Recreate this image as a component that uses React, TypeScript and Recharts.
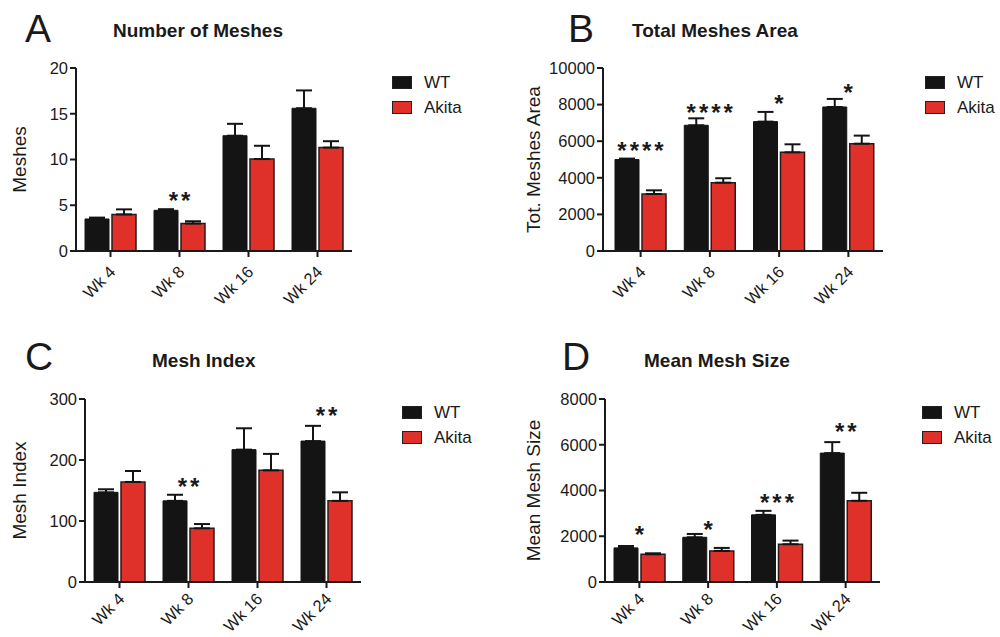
import React from 'react';
import { BarChart, Bar, XAxis, YAxis, ErrorBar, LabelList, Legend } from 'recharts';

const FONT = '"Liberation Sans", Arial, sans-serif';
const INK = '#1a1a1a';
const WT_COLOR = '#141414';
const AKITA_COLOR = '#e0302a';

const weeks = ['Wk 4', 'Wk 8', 'Wk 16', 'Wk 24'];
const seriesNames = ['WT', 'Akita'];

// A: number of meshes
const meshesWT = [3.5, 4.45, 12.6, 15.6];
const meshesWTSem = [0.15, 0.12, 1.3, 1.95];
const meshesAkita = [4.0, 3.0, 10.05, 11.3];
const meshesAkitaSem = [0.55, 0.25, 1.45, 0.7];
const meshesStars = ['', '**', '', ''];
const meshesStarLevel = [0, 6.0, 0, 0];
const meshesTicks = [0, 5, 10, 15, 20];

// B: total meshes area
const areaWT = [5000, 6870, 7070, 7870];
const areaWTSem = [50, 380, 530, 440];
const areaAkita = [3115, 3735, 5390, 5865];
const areaAkitaSem = [200, 240, 440, 440];
const areaStars = ['****', '****', '*', '*'];
const areaStarLevel = [5740, 7810, 8300, 8900];
const areaTicks = [0, 2000, 4000, 6000, 8000, 10000];

// C: mesh index
const indexWT = [147, 133, 217, 231];
const indexWTSem = [5, 10, 35, 25];
const indexAkita = [164, 88, 183, 133];
const indexAkitaSem = [18, 7, 27, 14];
const indexStars = ['', '**', '', '**'];
const indexStarLevel = [0, 164, 0, 280];
const indexTicks = [0, 100, 200, 300];

// D: mean mesh size
const sizeWT = [1490, 1955, 2935, 5635];
const sizeWTSem = [85, 145, 175, 480];
const sizeAkita = [1210, 1360, 1650, 3550];
const sizeAkitaSem = [45, 130, 160, 350];
const sizeStars = ['*', '*', '***', '**'];
const sizeStarLevel = [2270, 2490, 3670, 6770];
const sizeTicks = [0, 2000, 4000, 6000, 8000];

const makeRows = (
  wt: number[], wtSem: number[], ak: number[], akSem: number[],
  stars: string[], levels: number[]
) =>
  weeks.map((week, i) => ({
    week,
    wt: wt[i],
    wtErr: [0, wtSem[i]],
    akita: ak[i],
    akitaErr: [0, akSem[i]],
    star: stars[i],
    starLevel: levels[i],
  }));

const panels = [
  {
    letter: 'A', title: 'Number of Meshes', yLabel: 'Meshes',
    rows: makeRows(meshesWT, meshesWTSem, meshesAkita, meshesAkitaSem, meshesStars, meshesStarLevel),
    ticks: meshesTicks,
    box: { left: 0, top: 0, width: 500, height: 318 },
    margin: { top: 68, right: 148, bottom: 7, left: 0 },
    yWidth: 76, xHeight: 60, labelX: 19, padLeft: 0, tickDrop: 14,
    legend: { left: 392, top: 70 },
    letterPos: { x: 25, y: 42 }, titlePos: { x: 113, y: 37 },
  },
  {
    letter: 'B', title: 'Total Meshes Area', yLabel: 'Tot. Meshes Area',
    rows: makeRows(areaWT, areaWTSem, areaAkita, areaAkitaSem, areaStars, areaStarLevel),
    ticks: areaTicks,
    box: { left: 500, top: 0, width: 500, height: 318 },
    margin: { top: 68, right: 117, bottom: 7, left: 0 },
    yWidth: 103, xHeight: 60, labelX: 33, padLeft: 3, tickDrop: 14,
    legend: { left: 425, top: 70 },
    letterPos: { x: 568, y: 42 }, titlePos: { x: 632, y: 37 },
  },
  {
    letter: 'C', title: 'Mesh Index', yLabel: 'Mesh Index',
    rows: makeRows(indexWT, indexWTSem, indexAkita, indexAkitaSem, indexStars, indexStarLevel),
    ticks: indexTicks,
    box: { left: 0, top: 320, width: 500, height: 317 },
    margin: { top: 79, right: 139, bottom: 5, left: 0 },
    yWidth: 85, xHeight: 50, labelX: 19, padLeft: 0, tickDrop: 10,
    legend: { left: 402, top: 80 },
    letterPos: { x: 25, y: 370 }, titlePos: { x: 152, y: 367 },
  },
  {
    letter: 'D', title: 'Mean Mesh Size', yLabel: 'Mean Mesh Size',
    rows: makeRows(sizeWT, sizeWTSem, sizeAkita, sizeAkitaSem, sizeStars, sizeStarLevel),
    ticks: sizeTicks,
    box: { left: 500, top: 320, width: 500, height: 317 },
    margin: { top: 79, right: 120, bottom: 5, left: 0 },
    yWidth: 105, xHeight: 50, labelX: 33, padLeft: 0, tickDrop: 10,
    legend: { left: 422, top: 80 },
    letterPos: { x: 562, y: 370 }, titlePos: { x: 644, y: 367 },
  },
];

const WeekTick = ({ x, y, payload, drop }: any) => {
  const ax = x + 6;
  const ay = y + drop;
  return (
    <text
      x={ax}
      y={ay}
      transform={`rotate(-45, ${ax}, ${ay})`}
      textAnchor="end"
      fontSize={16.5}
      fontFamily={FONT}
      fill={INK}
    >
      {payload.value}
    </text>
  );
};

// stars sit centred over the pair, at a level
const renderStar = (rows: any[]) => (props: any) => {
  const { index, value } = props;
  if (!value) return null;
  const vb = props.viewBox || props;
  const x = props.x ?? vb.x;
  const y = props.y ?? vb.y;
  const width = props.width ?? vb.width;
  const height = props.height ?? vb.height;
  const row = rows[index];
  const perUnit = height / row.wt;
  const base = y + height;
  const cy = base - row.starLevel * perUnit;
  return (
    <text
      x={x + width + 1.5 + 1.5}
      y={cy + 13}
      textAnchor="middle"
      fontSize={24}
      fontWeight="bold"
      letterSpacing={3}
      fontFamily={FONT}
      fill={INK}
    >
      {value}
    </text>
  );
};

const renderLegend = (props: any) => {
  const items = [...(props.payload || [])].sort(
    (a: any, b: any) => seriesNames.indexOf(a.value) - seriesNames.indexOf(b.value)
  );
  return (
    <div style={{ fontFamily: FONT, fontSize: 17, color: INK }}>
      {items.map((item: any) => (
        <div key={item.value} style={{ display: 'flex', alignItems: 'center', height: 25 }}>
          <span
            style={{
              display: 'inline-block',
              width: 20,
              height: 13,
              background: item.color,
              border: '1.5px solid #222',
              boxSizing: 'border-box',
              marginRight: 12,
            }}
          />
          <span>{item.value}</span>
        </div>
      ))}
    </div>
  );
};

const Panel = ({ p }: { p: (typeof panels)[number] }) => {
  const max = p.ticks[p.ticks.length - 1];
  return (
    <div style={{ position: 'absolute', left: p.box.left, top: p.box.top }}>
      <BarChart
        width={p.box.width}
        height={p.box.height}
        data={p.rows}
        margin={p.margin}
        barGap={3}
      >
        <XAxis
          dataKey="week"
          interval={0}
          height={p.xHeight}
          padding={{ left: p.padLeft, right: 0 }}
          tick={<WeekTick drop={p.tickDrop} />}
          tickSize={6}
          axisLine={{ stroke: INK, strokeWidth: 2 }}
          tickLine={{ stroke: INK, strokeWidth: 2 }}
        />
        <YAxis
          domain={[0, max]}
          ticks={p.ticks}
          width={p.yWidth}
          tickSize={6}
          tickMargin={2}
          axisLine={{ stroke: INK, strokeWidth: 2 }}
          tickLine={{ stroke: INK, strokeWidth: 2 }}
          tick={{ fontSize: 16.5, fill: INK, fontFamily: FONT }}
          label={{
            value: p.yLabel,
            angle: -90,
            position: 'insideLeft',
            offset: p.labelX,
            style: { textAnchor: 'middle', fontSize: 19, fill: INK, fontFamily: FONT },
          }}
        />
        <Legend
          layout="vertical"
          align="center"
          verticalAlign="middle"
          content={renderLegend}
          wrapperStyle={{ left: p.legend.left, top: p.legend.top }}
        />
        <Bar
          dataKey="wt"
          name={seriesNames[0]}
          fill={WT_COLOR}
          stroke={WT_COLOR}
          strokeWidth={1}
          barSize={24}
          isAnimationActive={false}
        >
          <ErrorBar dataKey="wtErr" direction="y" width={8} strokeWidth={2} stroke={WT_COLOR} />
          <LabelList dataKey="star" content={renderStar(p.rows)} />
        </Bar>
        <Bar
          dataKey="akita"
          name={seriesNames[1]}
          fill={AKITA_COLOR}
          stroke="#2a1a1a"
          strokeWidth={1.5}
          barSize={24}
          isAnimationActive={false}
        >
          <ErrorBar dataKey="akitaErr" direction="y" width={8} strokeWidth={2} stroke={WT_COLOR} />
        </Bar>
      </BarChart>
    </div>
  );
};

export default function App() {
  return (
    <div
      style={{
        position: 'absolute',
        left: 0,
        top: 0,
        width: 1000,
        height: 637,
        background: '#fff',
        overflow: 'hidden',
      }}
    >
      {panels.map((p) => (
        <Panel key={p.letter} p={p} />
      ))}
      <svg
        width={1000}
        height={637}
        style={{ position: 'absolute', left: 0, top: 0, pointerEvents: 'none' }}
      >
        {panels.map((p) => (
          <g key={p.letter}>
            <text x={p.letterPos.x} y={p.letterPos.y} fontSize={39} fontFamily={FONT} fill={INK}>
              {p.letter}
            </text>
            <text
              x={p.titlePos.x}
              y={p.titlePos.y}
              fontSize={19}
              fontWeight="bold"
              fontFamily={FONT}
              fill={INK}
            >
              {p.title}
            </text>
          </g>
        ))}
      </svg>
    </div>
  );
}
